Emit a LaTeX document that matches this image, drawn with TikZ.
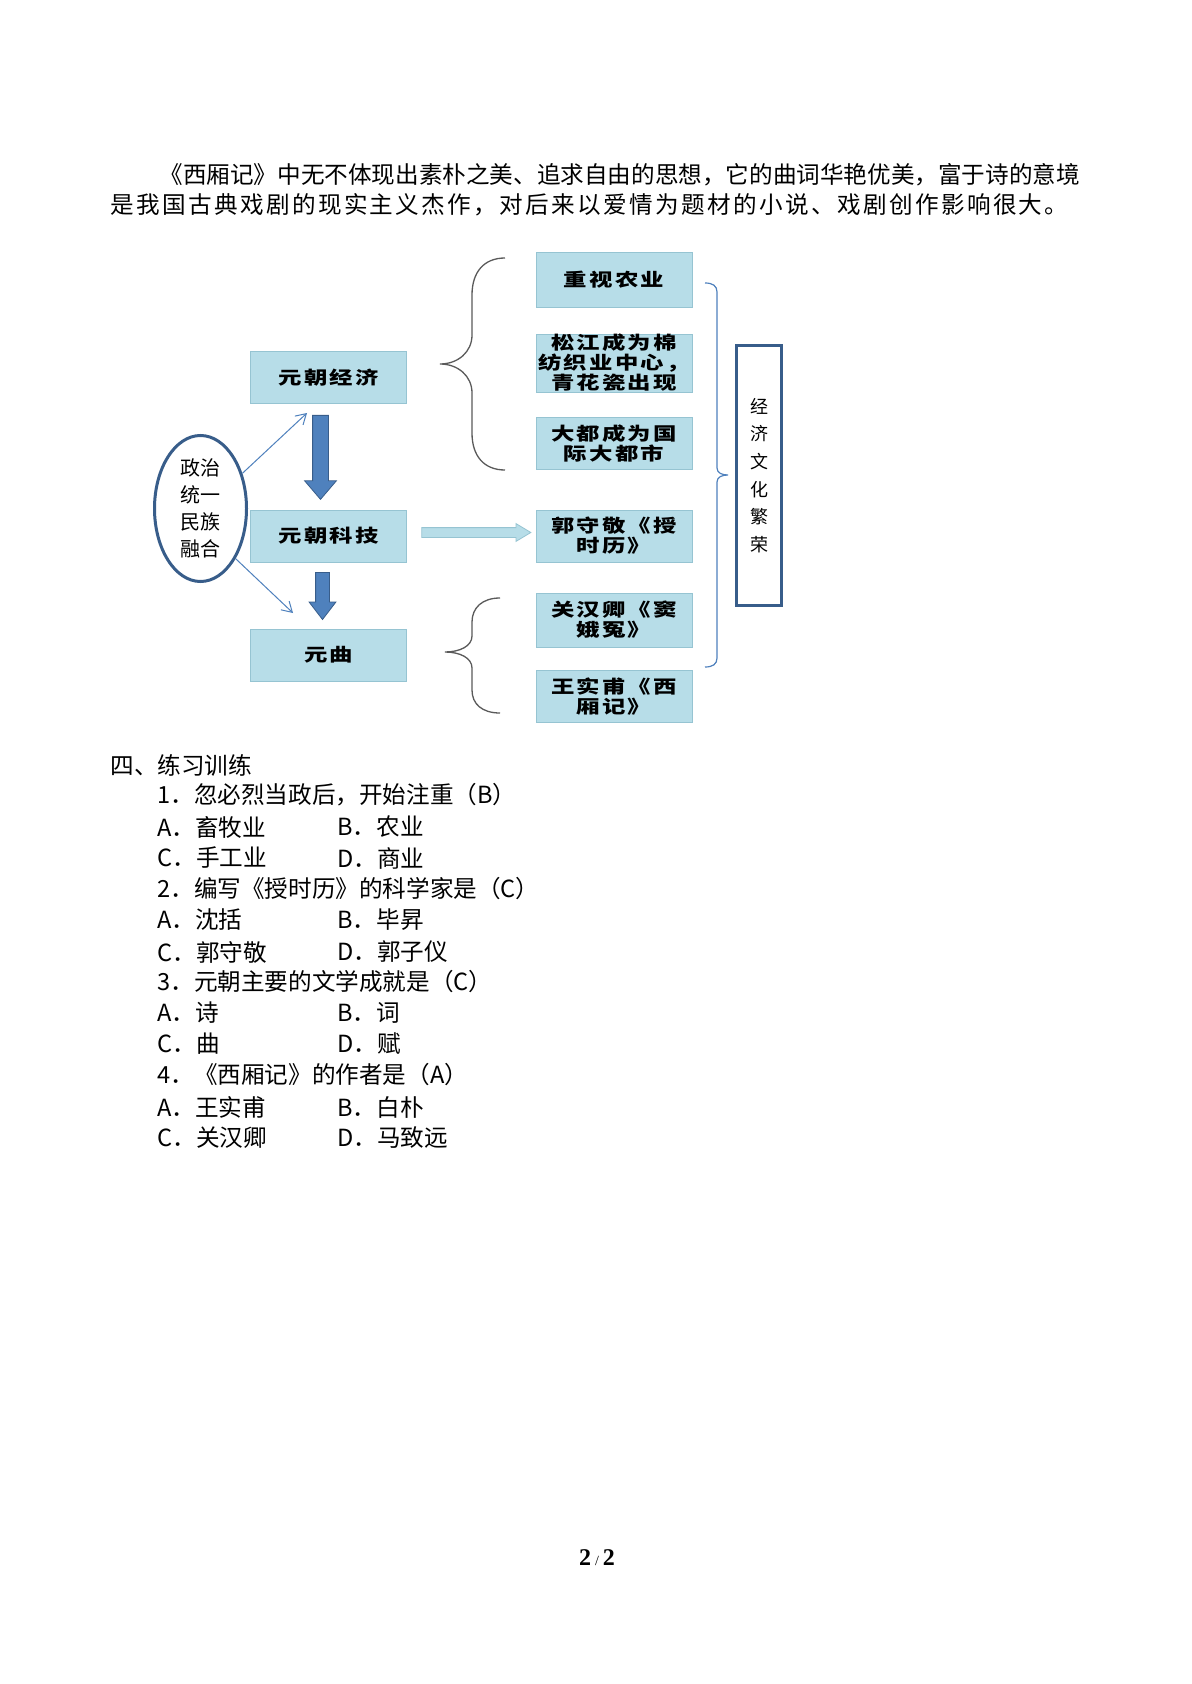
\documentclass[tikz,border=0pt]{standalone}
\usepackage{fontspec}
\setmainfont{Liberation Serif}
\newfontfamily\cjk{Noto Sans CJK SC}
\newfontfamily\cjkbox{Noto Sans CJK SC}[FakeStretch=1.3,LetterSpace=12]
\newfontfamily\cjkwide{Noto Sans CJK SC}[LetterSpace=10]
\usetikzlibrary{arrows.meta,shapes.geometric,shapes.arrows,calc}

\definecolor{boxfill}{RGB}{183,221,232}
\definecolor{boxline}{RGB}{150,196,210}
\definecolor{navy}{RGB}{56,93,138}
\definecolor{midblue}{RGB}{79,129,189}
\definecolor{bracegray}{RGB}{90,90,90}

\begin{document}
\begin{tikzpicture}[
  x=0.5pt,y=-0.5pt,
  >={Straight Barb[length=5pt,width=6pt]},
  every node/.style={inner sep=0pt},
  fact/.style={draw=boxline,fill=boxfill,minimum width=78pt,minimum height=26pt,
    align=center,font=\fontsize{9}{10}\cjkbox\bfseries},
  textline/.style={anchor=west,font=\fontsize{11.8}{14}\cjk},
  curly/.style={draw=bracegray,line width=0.65pt},
  bigarrow/.style={single arrow,draw=navy,fill=midblue,rotate=-90,line width=0.4pt,inner xsep=0pt},
  feed/.style={->,draw=midblue,line width=0.5pt}
]
  \path[fill=white] (0,0) rectangle (1191,1684);
  \useasboundingbox (0,0) rectangle (1191,1684);

  % Paragraph above the chart
  \node[textline] (para1) at (159,175) {《西厢记》中无不体现出素朴之美、追求自由的思想，它的曲词华艳优美，富于诗的意境};
  \node[textline,font=\fontsize{11.8}{14}\cjkwide] (para2) at (110,205) {是我国古典戏剧的现实主义杰作，对后来以爱情为题材的小说、戏剧创作影响很大。};

  % Left column
  \node[ellipse,draw=navy,line width=1.5pt,fill=white,minimum width=46pt,minimum height=73pt,
    align=center,font=\fontsize{10}{13.6}\cjk] (unity) at (200.5,508.5) {政治\\统一\\民族\\融合};
  \node[fact] (econ) at (328.5,377.5) {元朝经济};
  \node[fact] (tech) at (328.5,536) {元朝科技};
  \node[fact] (qu)   at (328.5,655) {元曲};

  % Right column
  \node[fact,minimum height=27.5pt] (agri) at (614,279.5) {重视农业};
  \node[fact,minimum height=29pt]   (song) at (614,363)   {松江成为棉\\纺织业中心，\\青花瓷出现};
  \node[fact] (dadu) at (614,443.5) {大都成为国\\际大都市};
  \node[fact] (guo)  at (614,536)   {郭守敬《授\\时历》};
  \node[fact,minimum height=27pt] (guan) at (614,620) {关汉卿《窦\\娥冤》};
  \node[fact] (wang) at (614,696.5) {王实甫《西\\厢记》};

  \node[draw=navy,line width=1.5pt,fill=white,minimum width=22.5pt,minimum height=130pt,
    align=center,font=\fontsize{9}{13.8}\cjk] (prosper) at (759,475.5) {经\\济\\文\\化\\繁\\荣};

  % Arrows
  \coordinate (econIn) at (307,413);
  \coordinate (quIn)   at (293,613);
  \draw[feed] (unity.40) -- (econIn);
  \draw[feed] (unity.-55) -- (quIn);

  \node[bigarrow,minimum height=42pt,inner ysep=3.75pt,single arrow head extend=4pt,
    single arrow tip angle=81] (push1) at ($(econ.south)!0.5!(tech.north)+(-8,-4)$) {};
  \node[bigarrow,minimum height=23.5pt,inner ysep=3.25pt,single arrow head extend=3.25pt,
    single arrow tip angle=75] (push2) at ($(tech.south)!0.5!(qu.north)+(-6,-4)$) {};
  \node[single arrow,draw=boxline,fill=boxfill,minimum height=54.5pt,inner xsep=0pt,inner ysep=2.25pt,
    single arrow head extend=2pt,single arrow tip angle=62] (lead) at ($(tech.east)!0.5!(guo.west)+(1,-3.5)$) {};

  % Braces
  \draw[curly] (505,258) .. controls (484,258) and (472,272) .. (472,295) -- (472,335)
    .. controls (472,352) and (458,364) .. (440,364) .. controls (458,364) and (472,376) .. (472,393)
    -- (472,433) .. controls (472,456) and (484,470) .. (505,470);
  \draw[curly] (500,598) .. controls (482,598) and (472,608) .. (472,622) -- (472,636)
    .. controls (472,646) and (460,652) .. (445,652) .. controls (460,652) and (472,658) .. (472,668)
    -- (472,690) .. controls (472,704) and (482,713) .. (500,713);
  \draw[draw=midblue,line width=0.6pt] (705,283) .. controls (713,283) and (717,286) .. (717,292)
    -- (717,468) .. controls (717,473) and (722,475) .. (728,475) .. controls (722,475) and (717,477) .. (717,482)
    -- (717,658) .. controls (717,664) and (713,667) .. (705,667);

  % Exercises
  \node[textline] (head) at (110,765) {四、练习训练};
  \node[textline] (q1)  at (157,795)  {1．忽必烈当政后，开始注重（B）};
  \node[textline] (q1a) at (157,827)  {A．畜牧业};
  \node[textline] (q1b) at (337,827)  {B．农业};
  \node[textline] (q1c) at (157,858)  {C．手工业};
  \node[textline] (q1d) at (337,858)  {D．商业};
  \node[textline] (q2)  at (157,889)  {2．编写《授时历》的科学家是（C）};
  \node[textline] (q2a) at (157,920)  {A．沈括};
  \node[textline] (q2b) at (337,920)  {B．毕昇};
  \node[textline] (q2c) at (157,952)  {C．郭守敬};
  \node[textline] (q2d) at (337,952)  {D．郭子仪};
  \node[textline] (q3)  at (157,982)  {3．元朝主要的文学成就是（C）};
  \node[textline] (q3a) at (157,1013) {A．诗};
  \node[textline] (q3b) at (337,1013) {B．词};
  \node[textline] (q3c) at (157,1044) {C．曲};
  \node[textline] (q3d) at (337,1044) {D．赋};
  \node[textline] (q4)  at (157,1075) {4．《西厢记》的作者是（A）};
  \node[textline] (q4a) at (157,1107) {A．王实甫};
  \node[textline] (q4b) at (337,1107) {B．白朴};
  \node[textline] (q4c) at (157,1138) {C．关汉卿};
  \node[textline] (q4d) at (337,1138) {D．马致远};

  % Page number
  \node[font=\fontsize{12}{12}\selectfont\bfseries] (pagenum) at (597,1558) {2\,{\fontsize{7}{7}\selectfont\mdseries/}\,2};
\end{tikzpicture}
\end{document}
